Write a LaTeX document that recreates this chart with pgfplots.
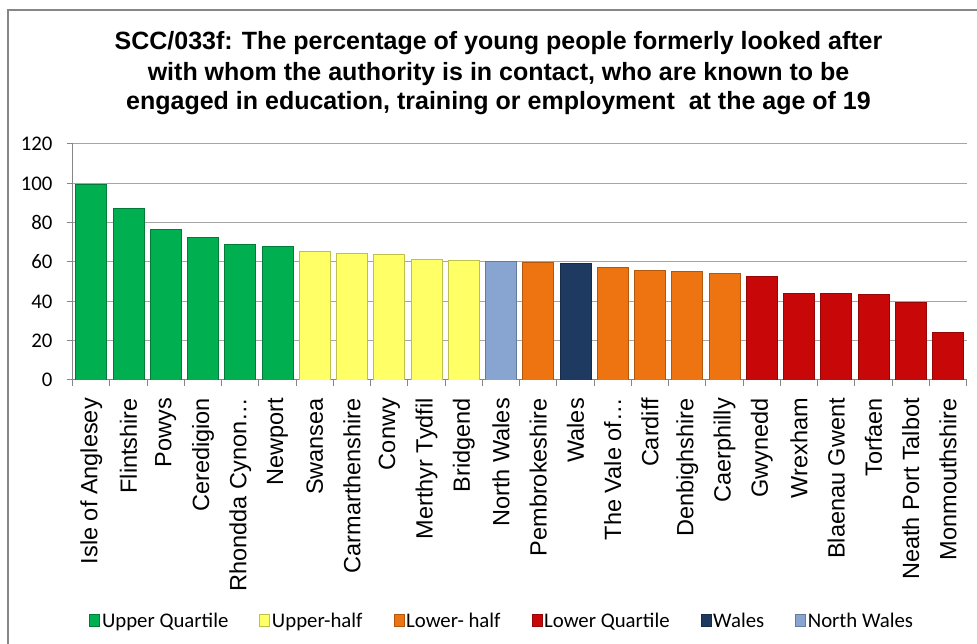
\documentclass[border=0pt]{standalone}
\usepackage{pgfplots}
\pgfplotsset{compat=1.18}
\usepackage{fontspec}
\setmainfont{Carlito}
\newfontfamily\arialfont{Liberation Sans}
\definecolor{cgreen}{RGB}{0,176,80}
\definecolor{cyellow}{RGB}{255,255,102}
\definecolor{corange}{RGB}{238,116,18}
\definecolor{cred}{RGB}{200,8,8}
\definecolor{cwales}{RGB}{30,58,96}
\definecolor{cnw}{RGB}{136,164,208}
\definecolor{gridc}{RGB}{165,165,165}
\definecolor{axc}{RGB}{134,134,134}
\pgfplotsset{
  mybar/.style={ybar, bar width=0.83, bar shift=0pt, line width=0.8pt,
    legend image code/.code={\draw[##1, line width=0.6pt] (0pt,-5pt) rectangle (10pt,7pt);}},
}
\begin{document}
\begin{tikzpicture}[x=1pt,y=1pt]
\path[use as bounding box] (0,0) rectangle (977,644);
\draw[axc, line width=1.5pt] (8,0) -- (8,634) -- (980,634);
\begin{scope}[font=\arialfont\bfseries\fontsize{25}{30}\selectfont]
\node[anchor=base, inner sep=0pt] at (498.5,594) {SCC/033f: The percentage of young people formerly looked after};
\node[anchor=base, inner sep=0pt] at (498.5,563) {with whom the authority is in contact, who are known to be};
\node[anchor=base, inner sep=0pt] at (498.5,534) {engaged in education, training or employment\ \ at the age of 19};
\end{scope}
\begin{axis}[
  at={(72.7pt,264pt)}, anchor=south west, scale only axis,
  width=894pt, height=236pt,
  xmin=-0.5, xmax=23.5, ymin=0, ymax=120,
  ytick={0,20,...,120},
  xtick={0,...,23},
  minor xtick={-0.5,0.5,...,23.5},
  xticklabels={Isle of Anglesey, Flintshire, Powys, Ceredigion, Rhondda Cynon…, Newport, Swansea, Carmarthenshire, Conwy, Merthyr Tydfil, Bridgend, North Wales, Pembrokeshire, Wales, The Vale of…, Cardiff, Denbighshire, Caerphilly, Gwynedd, Wrexham, Blaenau Gwent, Torfaen, Neath Port Talbot, Monmouthshire},
  xticklabel style={rotate=90, anchor=east, font=\arialfont\fontsize{23.5}{26}\selectfont, inner sep=0pt, xshift=-12pt},
  yticklabel style={font=\fontsize{20.8}{24}\selectfont, /pgf/number format/assume math mode=true, inner sep=0pt, xshift=-14pt},
  axis x line*=bottom, axis y line*=left,
  axis line style={axc, line width=1pt},
  tick align=outside,
  major tick length=6pt, minor tick length=6pt,
  major x tick style={draw=none},
  minor x tick style={axc, line width=1pt},
  major y tick style={axc, line width=1pt},
  ymajorgrids, grid style={gridc, line width=1pt},
  legend columns=6,
  legend cell align=left,
  legend style={draw=none, fill=none, at={(0.4805,-1.022)}, anchor=center,
    font=\fontsize{20.8}{24}\selectfont,
    /tikz/every even column/.append style={column sep=29pt}},
]
\addplot[mybar, fill=cgreen, draw=cgreen!70!black] coordinates {(0,99.6) (1,87.4) (2,76.7) (3,72.7) (4,69.1) (5,67.7)};
\addlegendentry{Upper Quartile}
\addplot[mybar, fill=cyellow, draw=cyellow!75!black] coordinates {(6,65.5) (7,64.5) (8,64.0) (9,61.3) (10,60.8)};
\addlegendentry{Upper-half}
\addplot[mybar, fill=corange, draw=corange!75!black] coordinates {(12,59.6) (14,57.0) (15,55.8) (16,55.2) (17,54.1)};
\addlegendentry{Lower- half}
\addplot[mybar, fill=cred, draw=cred!75!black] coordinates {(18,52.6) (19,44.1) (20,44.1) (21,43.4) (22,39.4) (23,24.4)};
\addlegendentry{Lower Quartile}
\addplot[mybar, fill=cwales, draw=cwales!75!black] coordinates {(13,59.2)};
\addlegendentry{Wales}
\addplot[mybar, fill=cnw, draw=cnw!75!black] coordinates {(11,60.1)};
\addlegendentry{North Wales}
\end{axis}
\end{tikzpicture}
\end{document}
